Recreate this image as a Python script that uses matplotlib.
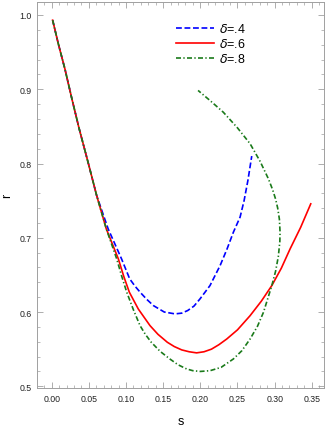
import matplotlib
matplotlib.use("Agg")
import matplotlib.pyplot as plt
from matplotlib.ticker import MultipleLocator

# common initial segment (s, r)
common_s = [0.0013, 0.009, 0.0179, 0.027, 0.0367, 0.049, 0.0605]
common_r = [0.993, 0.961, 0.927, 0.888, 0.848, 0.8015, 0.757]

blue_s = common_s + [0.076, 0.094, 0.105, 0.112, 0.119, 0.128, 0.137, 0.1515, 0.166, 0.175, 0.183, 0.1915,
                     0.1996, 0.213, 0.2266, 0.236, 0.2445, 0.2535, 0.2589, 0.264, 0.2692]
blue_r = common_r + [0.712, 0.6716, 0.6446, 0.635, 0.6267, 0.617, 0.6086, 0.600, 0.5975, 0.5985, 0.602, 0.608,
                     0.6177, 0.6356, 0.6625, 0.685, 0.7075, 0.7278, 0.750, 0.777, 0.810]

red_s = common_s + [0.0735, 0.0897, 0.097, 0.1045, 0.1166, 0.1323, 0.143, 0.1556, 0.165, 0.175, 0.185, 0.195,
                    0.205, 0.215, 0.225, 0.2356, 0.250, 0.2669, 0.282, 0.2962, 0.309, 0.3208, 0.335, 0.3486]
red_r = common_r + [0.712, 0.6716, 0.648, 0.6267, 0.604, 0.5817, 0.570, 0.5593, 0.5535, 0.549, 0.5465, 0.545,
                    0.5465, 0.550, 0.556, 0.5637, 0.576, 0.595, 0.6145, 0.6356, 0.659, 0.685, 0.714, 0.7457]

green_s = common_s + [0.0735, 0.0875, 0.094, 0.101, 0.110, 0.1189, 0.126, 0.134, 0.146, 0.159, 0.170, 0.1817,
                      0.190, 0.200, 0.2131, 0.228, 0.2445, 0.256, 0.267, 0.277, 0.285, 0.2962, 0.3013, 0.305,
                      0.3070, 0.3073, 0.3064, 0.3041, 0.3012, 0.2972, 0.2916, 0.2804, 0.267, 0.250, 0.231, 0.214, 0.197]
green_r = common_r + [0.712, 0.6716, 0.649, 0.6267, 0.603, 0.5817, 0.570, 0.5593, 0.547, 0.5368, 0.529, 0.5233,
                      0.521, 0.520, 0.521, 0.5255, 0.5368, 0.548, 0.5637, 0.581, 0.5997, 0.6356, 0.655, 0.675,
                      0.695, 0.7075, 0.725, 0.740, 0.7524, 0.765, 0.7794, 0.803, 0.8266, 0.848, 0.869, 0.884, 0.8984]

labels = [r"$\delta$=.4", r"$\delta$=.6", r"$\delta$=.8"]

plt.rcParams['font.family'] = ['Liberation Sans', 'DejaVu Sans']
plt.rcParams['mathtext.fontset'] = 'dejavusans'

fig = plt.figure(figsize=(3.27, 4.27), dpi=100)
ax = fig.add_axes([0.113, 0.089, 0.878, 0.904])

ax.plot(blue_s, blue_r, color='#0000ff', lw=1.2, dashes=(3.5, 1.6), label=labels[0])
ax.plot(red_s, red_r, color='#ff0000', lw=1.2, label=labels[1])
ax.plot(green_s, green_r, color='#1a7a1a', lw=1.2, dashes=(3.0, 1.4, 0.8, 1.4), label=labels[2])

ax.set_xlim(-0.0198, 0.3665)
ax.set_ylim(0.4977, 1.0175)
ax.xaxis.set_major_locator(MultipleLocator(0.05))
ax.xaxis.set_minor_locator(MultipleLocator(0.01))
ax.yaxis.set_major_locator(MultipleLocator(0.1))
ax.yaxis.set_minor_locator(MultipleLocator(0.02))
ax.xaxis.set_major_formatter(plt.FuncFormatter(lambda v, p: f"{v:.2f}"))
ax.yaxis.set_major_formatter(plt.FuncFormatter(lambda v, p: f"{v:.1f}"))

for sp in ax.spines.values():
    sp.set_color('#a0a0a0')
    sp.set_linewidth(0.7)
ax.tick_params(which='both', direction='in', top=True, right=True, color='#a0a0a0', labelsize=6.3, labelcolor='#222222')
ax.tick_params(which='major', length=4, width=0.6, pad=4)
ax.tick_params(which='minor', length=2, width=0.5)

ax.set_xlabel('s', fontsize=9, labelpad=9)
ax.set_ylabel('r', fontsize=9, labelpad=4)

ax.legend(loc='upper left', bbox_to_anchor=(0.455, 0.97), frameon=False, fontsize=9,
          handlelength=3.0, handletextpad=0.4, labelspacing=0.15, borderpad=0.2)

fig.savefig('out.png', dpi=100)
